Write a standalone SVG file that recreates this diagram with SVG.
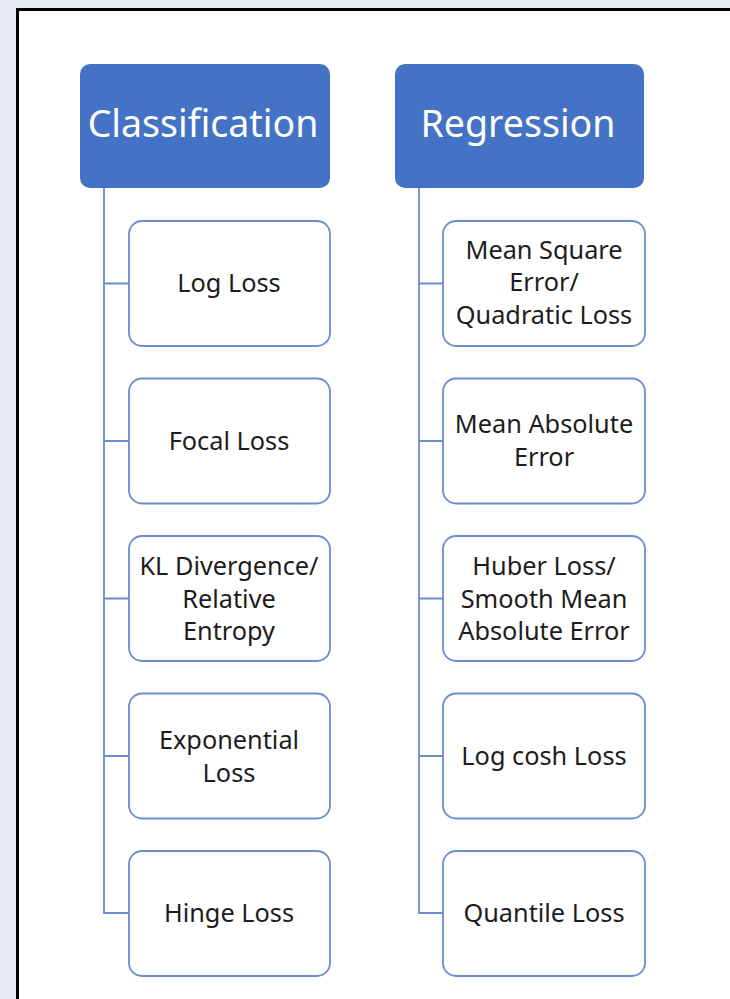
<svg xmlns="http://www.w3.org/2000/svg" width="730" height="999" viewBox="0 0 730 999">
  <style>
    .hdr { fill: #4472C4; }
    .hdrtxt { fill: #ffffff; font-family: "Noto Sans", "Open Sans", sans-serif; font-size: 37.5px; text-anchor: middle; }
    .box { fill: #ffffff; stroke: #6A8ED0; stroke-width: 1.8; }
    .txt { fill: #1c1c1c; font-family: "Noto Sans", "Open Sans", sans-serif; font-size: 25.3px; text-anchor: middle; }
    .conn { fill: none; stroke: #6A8ED0; stroke-width: 1.8; }
  </style>
  <rect x="0" y="0" width="730" height="999" fill="#e8ecf2"/>
  <rect x="17.5" y="9.5" width="720" height="1000" fill="#ffffff" stroke="#000000" stroke-width="3"/>

  <g id="connectors">
    <path class="conn" d="M104 188 V913 H129 M104 283.5 H129 M104 441 H129 M104 598.5 H129 M104 756 H129"/>
    <path class="conn" d="M419 188 V913 H443 M419 283.5 H443 M419 441 H443 M419 598.5 H443 M419 756 H443"/>
  </g>

  <g id="classification">
    <rect class="hdr" x="80" y="64" width="250" height="124" rx="10"/>
    <text class="hdrtxt" x="203" y="136.5">Classification</text>
  </g>
  <g id="regression">
    <rect class="hdr" x="395" y="64" width="249" height="124" rx="10"/>
    <text class="hdrtxt" x="518" y="136.5">Regression</text>
  </g>

  <g id="log-loss">
    <rect class="box" x="129" y="221" width="201" height="125" rx="13"/>
    <text class="txt" x="229" y="292">Log Loss</text>
  </g>
  <g id="focal-loss">
    <rect class="box" x="129" y="378.5" width="201" height="125" rx="13"/>
    <text class="txt" x="229" y="450">Focal Loss</text>
  </g>
  <g id="kl-divergence">
    <rect class="box" x="129" y="536" width="201" height="125" rx="13"/>
    <text class="txt" x="229" y="575">KL Divergence/</text>
    <text class="txt" x="229" y="607.5">Relative</text>
    <text class="txt" x="229" y="640">Entropy</text>
  </g>
  <g id="exponential-loss">
    <rect class="box" x="129" y="693.5" width="201" height="125" rx="13"/>
    <text class="txt" x="229" y="749">Exponential</text>
    <text class="txt" x="229" y="781.5">Loss</text>
  </g>
  <g id="hinge-loss">
    <rect class="box" x="129" y="851" width="201" height="125" rx="13"/>
    <text class="txt" x="229" y="922">Hinge Loss</text>
  </g>

  <g id="mean-square-error">
    <rect class="box" x="443" y="221" width="202" height="125" rx="13"/>
    <text class="txt" x="544" y="258.5">Mean Square</text>
    <text class="txt" x="544" y="291">Error/</text>
    <text class="txt" x="544" y="323.5">Quadratic Loss</text>
  </g>
  <g id="mean-absolute-error">
    <rect class="box" x="443" y="378.5" width="202" height="125" rx="13"/>
    <text class="txt" x="544" y="433">Mean Absolute</text>
    <text class="txt" x="544" y="465.5">Error</text>
  </g>
  <g id="huber-loss">
    <rect class="box" x="443" y="536" width="202" height="125" rx="13"/>
    <text class="txt" x="544" y="575">Huber Loss/</text>
    <text class="txt" x="544" y="607.5">Smooth Mean</text>
    <text class="txt" x="544" y="640">Absolute Error</text>
  </g>
  <g id="log-cosh-loss">
    <rect class="box" x="443" y="693.5" width="202" height="125" rx="13"/>
    <text class="txt" x="544" y="765">Log cosh Loss</text>
  </g>
  <g id="quantile-loss">
    <rect class="box" x="443" y="851" width="202" height="125" rx="13"/>
    <text class="txt" x="544" y="922">Quantile Loss</text>
  </g>
</svg>
